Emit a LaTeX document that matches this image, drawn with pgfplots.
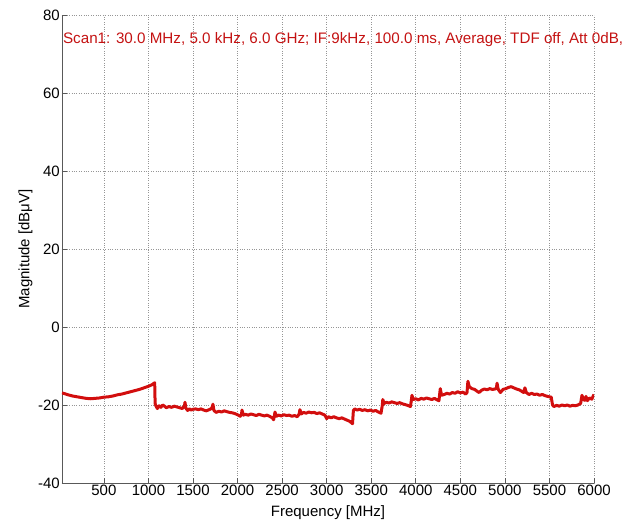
\documentclass[border=0pt]{standalone}
\usepackage{fontspec}
\setmainfont{Liberation Sans}
\usepackage{pgfplots}
\pgfplotsset{compat=1.18}

\definecolor{trace}{RGB}{210,14,14}
\definecolor{scantxt}{RGB}{196,18,18}
\definecolor{gridgray}{RGB}{150,150,150}

\begin{document}
\begin{tikzpicture}
\useasboundingbox (-62pt,-44pt) rectangle (568pt,483pt);
\begin{axis}[
  scale only axis,
  width=532pt, height=468pt,
  xmin=30, xmax=6000,
  ymin=-40, ymax=80,
  xtick={500,1000,...,6000},
  ytick={-40,-20,...,80},
  axis x line*=bottom,
  axis y line*=left,
  axis line style={black!65, line width=0.9pt},
  tick style={black!65, line width=0.6pt},
  tick align=inside,
  major tick length=5pt,
  grid=major,
  major grid style={gridgray, dotted, line width=0.6pt},
  /pgf/number format/assume math mode=true,
  /pgf/number format/1000 sep={},
  ticklabel style={font=\fontsize{15}{17}\selectfont},
  xticklabel style={inner sep=2pt},
  yticklabel style={inner sep=2pt},
  label style={font=\fontsize{15}{17}\selectfont},
  xlabel={Frequency [MHz]},
  ylabel={Magnitude [dBμV]},
  xlabel style={yshift=-4pt},
  ylabel style={yshift=0pt},
  clip mode=individual,
]
\addplot[trace, line width=3pt, line join=round] coordinates {
(30,-16.9) (60,-17.1) (100,-17.4) (150,-17.7) (200,-17.9) (250,-18.1)
(300,-18.3) (350,-18.4) (400,-18.3) (450,-18.2) (500,-18.0) (550,-17.9)
(600,-17.7) (650,-17.4) (700,-17.2) (750,-16.9) (800,-16.6) (850,-16.3)
(900,-16.0) (950,-15.6) (1000,-15.2) (1040,-14.8) (1070,-14.3)
(1075,-19.6) (1085,-20.3) (1100,-20.9) (1120,-20.2) (1140,-20.6) (1160,-20.0)
(1180,-20.3) (1200,-20.7) (1230,-20.4) (1260,-20.6) (1290,-20.3) (1320,-20.5)
(1350,-20.7) (1380,-20.9) (1405,-20.2) (1410,-19.3) (1420,-20.8) (1440,-21.4)
(1460,-21.0) (1480,-21.3) (1500,-21.1) (1530,-21.0) (1560,-21.2) (1590,-21.0)
(1620,-21.3) (1650,-21.5) (1680,-21.2) (1700,-21.0) (1715,-20.6) (1724,-19.8)
(1735,-21.4) (1760,-21.9) (1790,-21.6) (1820,-21.8) (1850,-21.5) (1880,-21.7)
(1910,-21.9) (1940,-22.0) (1970,-22.2) (2000,-22.5) (2030,-22.9) (2045,-22.3)
(2050,-21.3) (2065,-22.6) (2090,-22.4) (2120,-22.6) (2150,-22.3) (2180,-22.5)
(2210,-22.7) (2240,-22.4) (2270,-22.6) (2300,-22.8) (2330,-22.6) (2360,-22.9)
(2390,-23.3) (2405,-23.8) (2415,-22.5) (2420,-21.8) (2435,-22.9) (2460,-22.6)
(2490,-22.8) (2520,-22.5) (2550,-22.7) (2580,-22.6) (2610,-22.9) (2640,-22.7)
(2670,-23.0) (2690,-22.4) (2700,-21.2) (2715,-22.3) (2740,-21.9) (2770,-22.1)
(2800,-21.8) (2830,-22.0) (2860,-21.9) (2890,-22.2) (2920,-22.0) (2950,-22.3)
(2980,-22.6) (3000,-23.5) (3020,-23.0) (3050,-23.3) (3080,-23.0) (3110,-23.3)
(3140,-23.5) (3170,-23.3) (3200,-23.6) (3230,-23.9) (3260,-24.2) (3290,-24.8)
(3300,-21.4) (3315,-21.0) (3340,-21.3) (3370,-21.1) (3400,-21.4) (3430,-21.2)
(3460,-21.5) (3490,-21.3) (3520,-21.6) (3550,-21.4) (3580,-21.8) (3610,-22.1)
(3625,-20.0) (3630,-18.6) (3645,-19.6) (3670,-19.3) (3700,-19.5) (3730,-19.2)
(3760,-19.4) (3790,-19.6) (3820,-19.4) (3850,-19.7) (3880,-19.9) (3910,-20.1)
(3940,-20.4) (3950,-18.9) (3957,-17.5) (3970,-18.6) (4000,-18.4) (4030,-18.7)
(4060,-18.3) (4090,-18.5) (4120,-18.2) (4150,-18.4) (4180,-18.6) (4210,-18.3)
(4240,-18.7) (4260,-18.9) (4275,-15.8) (4290,-17.5) (4320,-17.3) (4350,-17.0)
(4380,-17.2) (4410,-16.8) (4440,-17.0) (4470,-16.6) (4500,-16.9) (4530,-16.7)
(4560,-17.2) (4575,-16.8) (4585,-13.9) (4600,-15.3) (4630,-15.8) (4660,-16.0)
(4690,-16.5) (4710,-16.8) (4740,-16.2) (4770,-15.9) (4800,-16.1) (4830,-15.8)
(4860,-16.0) (4890,-15.9) (4905,-15.6) (4912,-14.4) (4925,-16.0) (4950,-16.8)
(4980,-16.0) (5010,-15.8) (5040,-15.5) (5070,-15.3) (5100,-15.6) (5130,-15.9)
(5160,-16.1) (5190,-16.5) (5210,-16.8) (5225,-15.6) (5240,-16.8) (5270,-17.3)
(5300,-17.0) (5330,-17.3) (5360,-17.2) (5390,-17.5) (5420,-17.3) (5450,-17.6)
(5480,-17.8) (5520,-18.0) (5535,-20.0) (5550,-20.4) (5580,-20.1) (5610,-20.3)
(5640,-20.0) (5670,-20.2) (5700,-20.0) (5730,-20.3) (5760,-20.1) (5790,-20.2)
(5820,-20.0) (5850,-19.6) (5865,-17.5) (5880,-18.5) (5895,-18.8) (5910,-17.8)
(5925,-18.9) (5950,-18.2) (5975,-18.5) (6000,-17.3)
};
\node[anchor=west, inner sep=0pt, text=scantxt, font=\fontsize{15.2}{17}\selectfont]
  at (axis cs:40,73.6) {Scan1: 30.0 MHz, 5.0 kHz, 6.0 GHz; IF:9kHz, 100.0 ms, Average, TDF off, Att 0dB,};
\end{axis}
\end{tikzpicture}
\end{document}
